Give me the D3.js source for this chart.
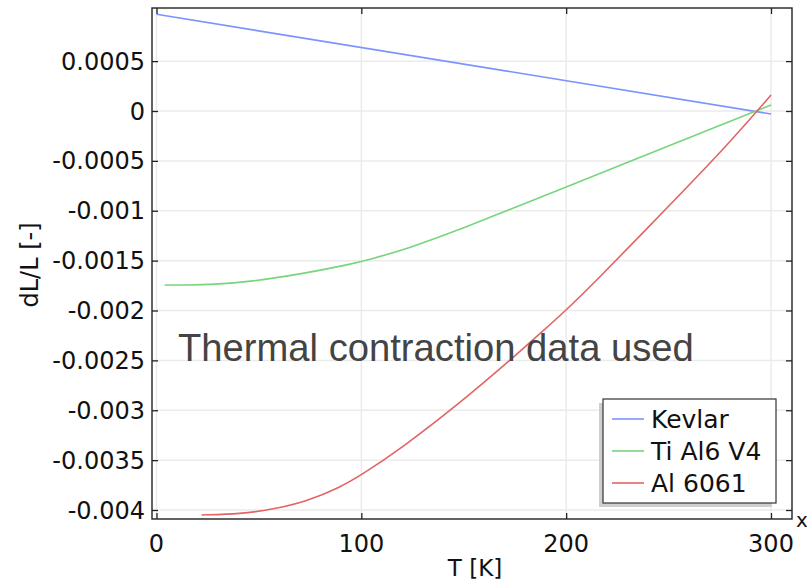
<!DOCTYPE html>
<html><head><meta charset="utf-8">
<script src="https://cdnjs.cloudflare.com/ajax/libs/d3/7.8.5/d3.min.js"></script>
<style>body{margin:0;background:#fff;overflow:hidden}svg{display:block}</style>
</head><body><svg id="c" width="807" height="582"></svg>
<script>
const seriesNames = ["Kevlar", "Ti Al6 V4", "Al 6061"];
const seriesColors = ["#7b93ff", "#78d47e", "#e26464"];
const kevlarT = [0, 300];
const kevlarV = [0.00097, -0.00003];
const tiT = [4, 15, 28, 46, 70, 94, 104, 124, 148, 172, 197, 231, 265, 300];
const tiV = [-0.001745, -0.001745, -0.00174, -0.00171, -0.001637, -0.00154, -0.00149, -0.00137, -0.00119, -0.00099, -0.000787, -0.000507, -0.000226, 0.00006];
const alT = [22, 41, 57, 73, 90, 100, 119, 148, 172, 189, 200, 212, 253, 278, 300];
const alV = [-0.00405, -0.00404, -0.003993, -0.003917, -0.00377, -0.003649, -0.00339, -0.00293, -0.00251, -0.00220, -0.001995, -0.00176, -0.000892, -0.000358, 0.00016];
const xTicks = [0, 100, 200, 300];
const yTicks = [0.0005, 0, -0.0005, -0.001, -0.0015, -0.002, -0.0025, -0.003, -0.0035, -0.004];
const yTickLabels = ["0.0005", "0", "-0.0005", "-0.001", "-0.0015", "-0.002", "-0.0025", "-0.003", "-0.0035", "-0.004"];
const annotation = "Thermal contraction data used";

const svg = d3.select("#c");
const L = 152, R = 792, T = 8, B = 519;
const x = d3.scaleLinear().domain([0, 300]).range([156.5, 771]);
const y = d3.scaleLinear().domain([0, -0.004]).range([111, 510]);

// grid
const g = svg.append("g");
g.selectAll(".vg").data(xTicks).enter().append("line")
  .attr("x1", d => x(d)).attr("x2", d => x(d)).attr("y1", T).attr("y2", B)
  .attr("stroke", "#ebebeb").attr("stroke-width", 1.5);
g.selectAll(".hg").data(yTicks).enter().append("line")
  .attr("x1", L).attr("x2", R).attr("y1", d => y(d)).attr("y2", d => y(d))
  .attr("stroke", "#ebebeb").attr("stroke-width", 1.5);

svg.append("clipPath").attr("id", "pc").append("rect")
  .attr("x", L).attr("y", T).attr("width", R - L).attr("height", B - T);

const line = d3.line().x(d => x(d[0])).y(d => y(d[1])).curve(d3.curveBasis);
const series = [d3.zip(kevlarT, kevlarV), d3.zip(tiT, tiV), d3.zip(alT, alV)];
const lg = svg.append("g").attr("clip-path", "url(#pc)");
series.forEach((s, i) => {
  lg.append("path").attr("d", line(s)).attr("fill", "none")
    .attr("stroke", seriesColors[i]).attr("stroke-width", 1.6);
});

// axes (inward ticks)
const axL = d3.axisRight(y).tickValues(yTicks).tickSize(6).tickFormat("");
const axR = d3.axisLeft(y).tickValues(yTicks).tickSize(6).tickFormat("");
const axB = d3.axisTop(x).tickValues(xTicks).tickSize(6).tickFormat("");
const axT = d3.axisBottom(x).tickValues(xTicks).tickSize(6).tickFormat("");
[[axL, `translate(${L},0)`], [axR, `translate(${R},0)`], [axB, `translate(0,${B})`], [axT, `translate(0,${T})`]]
  .forEach(([a, tr]) => {
    const ag = svg.append("g").attr("transform", tr).call(a);
    ag.select(".domain").remove();
    ag.selectAll("line").attr("stroke", "#222").attr("stroke-width", 1.3);
  });
svg.append("rect").attr("x", L).attr("y", T).attr("width", R - L).attr("height", B - T)
  .attr("fill", "none").attr("stroke", "#222").attr("stroke-width", 1.4);

// tick labels
const font = "DejaVu Sans, sans-serif";
svg.selectAll(".yl").data(yTicks).enter().append("text")
  .attr("x", 145).attr("y", d => y(d) + 8.5).attr("text-anchor", "end")
  .attr("font-family", font).attr("font-size", 24).attr("fill", "#111")
  .text((d, i) => yTickLabels[i]);
svg.selectAll(".xl").data(xTicks).enter().append("text")
  .attr("x", d => x(d)).attr("y", 552).attr("text-anchor", "middle")
  .attr("font-family", font).attr("font-size", 24).attr("fill", "#111")
  .text(d => d);
svg.append("text").attr("x", 475).attr("y", 576).attr("text-anchor", "middle")
  .attr("font-family", font).attr("font-size", 23).attr("fill", "#111").text("T [K]");
svg.append("text").attr("transform", "translate(38,265) rotate(-90)").attr("text-anchor", "middle")
  .attr("font-family", font).attr("font-size", 24).attr("fill", "#111").text("dL/L [-]");
svg.append("text").attr("x", 796).attr("y", 527)
  .attr("font-family", font).attr("font-size", 20).attr("fill", "#111").text("x");

// legend
const lgx = 603, lgy = 399, lgw = 173, lgh = 104;
svg.append("rect").attr("x", lgx - 4).attr("y", lgy + 4).attr("width", lgw).attr("height", lgh).attr("fill", "#cfcfcf");
svg.append("rect").attr("x", lgx).attr("y", lgy).attr("width", lgw).attr("height", lgh)
  .attr("fill", "#fff").attr("stroke", "#333").attr("stroke-width", 1.2);
seriesNames.forEach((n, i) => {
  const cy = 419 + i * 32;
  svg.append("line").attr("x1", 612).attr("x2", 644).attr("y1", cy).attr("y2", cy)
    .attr("stroke", seriesColors[i]).attr("stroke-width", 1.6);
  svg.append("text").attr("x", 651).attr("y", cy + 9).attr("font-family", font)
    .attr("font-size", 25).attr("fill", "#111").text(n);
});

// annotation
svg.append("text").attr("x", 178).attr("y", 361).attr("font-family", "Liberation Sans, Arial, sans-serif")
  .attr("font-size", 38.2).attr("fill", "#444").text(annotation);
</script></body></html>
